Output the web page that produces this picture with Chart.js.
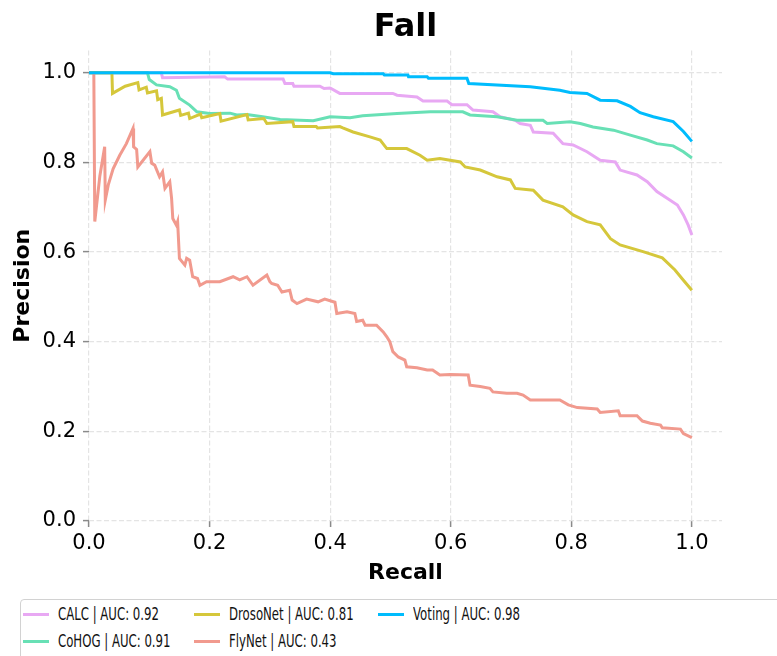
<!DOCTYPE html>
<html>
<head>
<meta charset="utf-8">
<script src="https://cdn.jsdelivr.net/npm/chart.js@4"></script>
<style>
  html, body { margin: 0; padding: 0; background: #fff; overflow: hidden; }
  #wrap { position: relative; width: 777px; height: 656px; overflow: hidden; }
  #chart { position: absolute; left: 0; top: 0; }
  #legend { position: absolute; left: 20px; top: 599px; width: 780px; height: 90px;
            border: 1px solid #d2d2d2; border-radius: 4px; box-sizing: border-box; background: #fff; }
  .swatch { position: absolute; width: 26px; height: 3px; }
  .lbl { position: absolute; white-space: nowrap; font: 17px "DejaVu Sans"; color: #111;
         transform: scaleX(0.69); transform-origin: 0 50%; line-height: 20px; height: 20px; }
</style>
</head>
<body>
<div id="wrap">
  <canvas id="chart" width="777" height="656"></canvas>
  <div id="legend"></div>
</div>
<script>
// Precision-recall curves for the "Fall" sequence
const seriesNames = ['CALC', 'CoHOG', 'DrosoNet', 'FlyNet', 'Voting'];
const aucValues = [0.92, 0.91, 0.81, 0.43, 0.98];
const seriesColors = ['#e8a8f3', '#68e0b5', '#d5c73b', '#f19a8e', '#00bcfd'];
const axisTicks = [0.0, 0.2, 0.4, 0.6, 0.8, 1.0];

const calcRecall = [0, 0.12, 0.122, 0.225, 0.23, 0.322, 0.325, 0.338, 0.34, 0.383,
  0.39, 0.40, 0.416, 0.504, 0.511, 0.544, 0.554, 0.594, 0.602, 0.627,
  0.637, 0.670, 0.682, 0.707, 0.715, 0.732, 0.737, 0.770, 0.786, 0.803,
  0.826, 0.848, 0.873, 0.881, 0.909, 0.926, 0.942, 0.959, 0.976, 0.986, 0.994, 1.0];
const calcPrecision = [1.0, 1.0, 0.989, 0.991, 0.986, 0.986, 0.976, 0.976, 0.970, 0.970,
  0.965, 0.966, 0.954, 0.954, 0.950, 0.946, 0.937, 0.937, 0.929, 0.929,
  0.917, 0.913, 0.902, 0.894, 0.887, 0.883, 0.868, 0.865, 0.842, 0.839,
  0.824, 0.805, 0.801, 0.783, 0.772, 0.757, 0.735, 0.720, 0.705, 0.683, 0.660, 0.638];

const cohogRecall = [0, 0.097, 0.10, 0.112, 0.134, 0.145, 0.150, 0.167, 0.179, 0.200,
  0.234, 0.245, 0.262, 0.288, 0.317, 0.372, 0.40, 0.433, 0.454, 0.511,
  0.566, 0.620, 0.632, 0.677, 0.710, 0.753, 0.760, 0.798, 0.815, 0.836,
  0.870, 0.898, 0.926, 0.942, 0.969, 0.986, 1.0];
const cohogPrecision = [1.0, 1.0, 0.985, 0.973, 0.969, 0.961, 0.943, 0.928, 0.913, 0.909,
  0.910, 0.906, 0.907, 0.902, 0.896, 0.893, 0.902, 0.900, 0.904, 0.909,
  0.913, 0.913, 0.906, 0.902, 0.894, 0.894, 0.887, 0.891, 0.887, 0.879,
  0.872, 0.861, 0.850, 0.842, 0.837, 0.824, 0.810];

const drosoRecall = [0, 0.038, 0.039, 0.060, 0.081, 0.083, 0.095, 0.097, 0.112, 0.114,
  0.120, 0.122, 0.150, 0.152, 0.165, 0.167, 0.185, 0.187, 0.217, 0.219,
  0.262, 0.264, 0.290, 0.295, 0.338, 0.340, 0.377, 0.379, 0.416, 0.421,
  0.438, 0.466, 0.483, 0.494, 0.527, 0.549, 0.561, 0.582, 0.616, 0.624,
  0.649, 0.677, 0.699, 0.707, 0.737, 0.753, 0.786, 0.803, 0.826, 0.848,
  0.865, 0.881, 0.919, 0.951, 0.972, 0.986, 1.0];
const drosoPrecision = [1.0, 1.0, 0.954, 0.970, 0.978, 0.962, 0.968, 0.955, 0.960, 0.940,
  0.943, 0.906, 0.917, 0.905, 0.910, 0.898, 0.908, 0.900, 0.909, 0.892,
  0.907, 0.895, 0.898, 0.887, 0.891, 0.880, 0.880, 0.877, 0.880, 0.877,
  0.868, 0.857, 0.850, 0.831, 0.831, 0.816, 0.805, 0.809, 0.801, 0.790,
  0.783, 0.768, 0.761, 0.742, 0.738, 0.716, 0.701, 0.683, 0.668, 0.661,
  0.630, 0.616, 0.601, 0.587, 0.560, 0.537, 0.515];

const flyRecall = [0.008, 0.0096, 0.018, 0.026, 0.027, 0.032, 0.040, 0.051, 0.062, 0.073,
  0.074, 0.079, 0.081, 0.101, 0.104, 0.109, 0.117, 0.122, 0.126, 0.134,
  0.137, 0.139, 0.145, 0.147, 0.150, 0.159, 0.162, 0.167, 0.172, 0.180,
  0.184, 0.195, 0.217, 0.239, 0.250, 0.262, 0.272, 0.295, 0.300, 0.303,
  0.313, 0.320, 0.333, 0.337, 0.345, 0.361, 0.380, 0.391, 0.408, 0.411,
  0.428, 0.441, 0.444, 0.454, 0.458, 0.477, 0.488, 0.494, 0.499, 0.504,
  0.513, 0.524, 0.527, 0.544, 0.561, 0.570, 0.582, 0.599, 0.629, 0.632,
  0.649, 0.665, 0.670, 0.693, 0.710, 0.720, 0.732, 0.781, 0.795, 0.810,
  0.843, 0.848, 0.878, 0.881, 0.909, 0.918, 0.931, 0.948, 0.951, 0.981,
  0.986, 1.0];
const flyPrecision = [1.0, 0.668, 0.770, 0.835, 0.716, 0.750, 0.786, 0.816, 0.842, 0.876,
  0.835, 0.829, 0.790, 0.824, 0.798, 0.794, 0.768, 0.779, 0.742, 0.757,
  0.720, 0.675, 0.660, 0.668, 0.586, 0.571, 0.586, 0.582, 0.545, 0.541,
  0.526, 0.534, 0.534, 0.545, 0.538, 0.545, 0.526, 0.549, 0.534, 0.530,
  0.526, 0.511, 0.515, 0.493, 0.485, 0.495, 0.489, 0.495, 0.488, 0.463,
  0.467, 0.463, 0.445, 0.448, 0.437, 0.437, 0.422, 0.411, 0.400, 0.378,
  0.366, 0.359, 0.344, 0.342, 0.337, 0.337, 0.326, 0.327, 0.326, 0.303,
  0.300, 0.296, 0.288, 0.285, 0.285, 0.281, 0.270, 0.270, 0.259, 0.253,
  0.250, 0.242, 0.246, 0.235, 0.235, 0.223, 0.218, 0.214, 0.208, 0.205,
  0.195, 0.186];

const votingRecall = [0, 0.40, 0.405, 0.488, 0.49, 0.529, 0.53, 0.561, 0.563, 0.627,
  0.63, 0.732, 0.781, 0.798, 0.826, 0.848, 0.876, 0.898, 0.914, 0.936,
  0.969, 0.986, 1.0];
const votingPrecision = [1.0, 1.0, 0.998, 0.998, 0.995, 0.995, 0.991, 0.991, 0.988, 0.988,
  0.976, 0.969, 0.961, 0.956, 0.954, 0.939, 0.9375, 0.925, 0.911, 0.902,
  0.891, 0.869, 0.847];

const curves = [
  [calcRecall, calcPrecision],
  [cohogRecall, cohogPrecision],
  [drosoRecall, drosoPrecision],
  [flyRecall, flyPrecision],
  [votingRecall, votingPrecision]
];

const labelOf = i => `${seriesNames[i]} | AUC: ${aucValues[i].toFixed(2)}`;

const datasets = curves.map(([rec, prec], i) => ({
  label: labelOf(i),
  data: rec.map((r, k) => ({ x: r, y: prec[k] })),
  borderColor: seriesColors[i],
  backgroundColor: seriesColors[i],
  borderWidth: 3,
  pointRadius: 0,
  tension: 0,
  fill: false,
  order: seriesNames.length - i   // Voting drawn on top
}));

const keepTicks = scale => {
  scale.ticks = axisTicks.map(v => ({ value: v }));
};

const tickFont = { family: 'DejaVu Sans', size: 21 };
const titleFont = { family: 'DejaVu Sans', size: 22, weight: 'bold' };
const gridOpts = { color: '#e4e4e4', lineWidth: 1.2, tickColor: '#8a8a8a', tickLength: 6, tickWidth: 1.5 };

new Chart(document.getElementById('chart'), {
  type: 'line',
  data: { datasets },
  options: {
    responsive: false,
    animation: false,
    layout: { padding: { left: 0, right: 55, top: 0, bottom: 70 } },
    plugins: {
      legend: { display: false },
      tooltip: { enabled: false },
      title: {
        display: true, text: 'Fall', fullSize: false, color: '#000',
        font: { family: 'DejaVu Sans', size: 32, weight: 'bold' },
        padding: { top: 8, bottom: 4 }
      }
    },
    scales: {
      x: {
        type: 'linear', min: 0, max: 1.05,
        afterBuildTicks: keepTicks,
        afterFit: s => { s.height = 65; },
        ticks: { font: tickFont, color: '#000', padding: 4, maxRotation: 0,
                 callback: v => Number(v).toFixed(1) },
        grid: gridOpts,
        border: { display: false, dash: [5, 2.5] },
        title: { display: true, text: 'Recall', font: titleFont, color: '#000', padding: { top: 0, bottom: 0 } }
      },
      y: {
        type: 'linear', min: 0, max: 1.05,
        afterBuildTicks: keepTicks,
        afterFit: s => { s.width = 89; },
        ticks: { font: tickFont, color: '#000', padding: 7,
                 callback: v => Number(v).toFixed(1) },
        grid: gridOpts,
        border: { display: false, dash: [5, 2.5] },
        title: { display: true, text: 'Precision', font: titleFont, color: '#000', padding: { top: 10, bottom: 0 } }
      }
    }
  }
});

// Legend: three columns, filled column by column
const legend = document.getElementById('legend');
const colX = [2, 173, 357];
const rowY = [14, 41];
seriesNames.forEach((name, i) => {
  const col = Math.floor(i / 2), row = i % 2;
  const sw = document.createElement('div');
  sw.className = 'swatch';
  sw.style.background = seriesColors[i];
  sw.style.left = colX[col] + 'px';
  sw.style.top = (rowY[row] - 1.5) + 'px';
  legend.appendChild(sw);
  const tx = document.createElement('div');
  tx.className = 'lbl';
  tx.textContent = labelOf(i);
  tx.style.left = (colX[col] + 35) + 'px';
  tx.style.top = (rowY[row] - 10) + 'px';
  legend.appendChild(tx);
});
</script>
</body>
</html>
